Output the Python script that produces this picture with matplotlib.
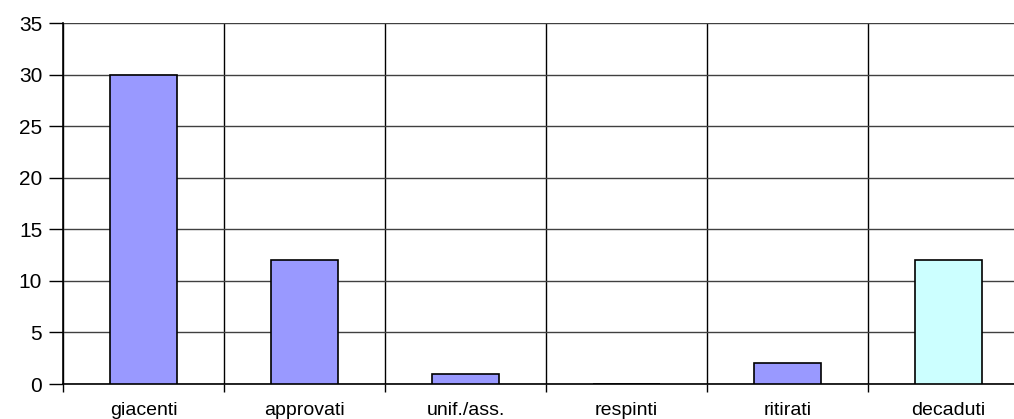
import numpy as np
import matplotlib.pyplot as plt
from matplotlib.ticker import MultipleLocator, FixedLocator

plt.rcParams['font.family'] = ['Liberation Sans', 'DejaVu Sans']

categorie = ["giacenti", "approvati", "unif./ass.", "respinti", "ritirati", "decaduti"]
valori = [30, 12, 1, 0, 2, 12]
colori = ["#9999FF", "#9999FF", "#9999FF", "#9999FF", "#9999FF", "#CCFFFF"]

fig = plt.figure(figsize=(10.14, 4.19), dpi=100)
# l'area del grafico esce un po' dal bordo destro, come nell'originale
ax = fig.add_axes([63 / 1014, 35 / 419, 966 / 1014, 361 / 419])

x = np.arange(len(categorie))
ax.bar(x, valori, width=0.41, color=colori, edgecolor="black", linewidth=1.2, zorder=3)

ax.set_xlim(-0.5, len(categorie) - 0.5)
ax.set_ylim(0, 35)

# etichette al centro, tacche ai bordi delle categorie
ax.set_xticks(x)
ax.set_xticklabels(categorie, fontsize=14)
ax.tick_params(axis="x", which="major", length=0, pad=13)
ax.xaxis.set_minor_locator(FixedLocator(np.arange(-0.5, len(categorie), 1.0)))
ax.tick_params(axis="x", which="minor", length=6, width=1, direction="out")

ax.yaxis.set_major_locator(MultipleLocator(5))
ax.tick_params(axis="y", length=10, width=1, labelsize=15, pad=5)

ax.grid(True, axis="y", which="major", color="#404040", linewidth=1, zorder=0)
ax.grid(True, axis="x", which="minor", color="black", linewidth=1, zorder=0)

for lato in ["top", "right"]:
    ax.spines[lato].set_visible(False)
ax.spines["left"].set_linewidth(1.2)
ax.spines["bottom"].set_linewidth(1.2)

fig.savefig("out.png", dpi=100)
